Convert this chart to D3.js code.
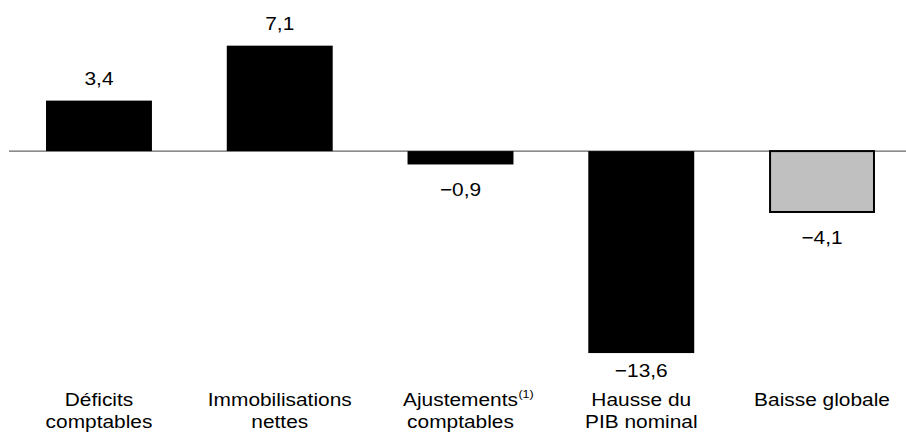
<!DOCTYPE html>
<html><head><meta charset="utf-8">
<script src="https://cdn.jsdelivr.net/npm/d3@7"></script>
<style>
html,body{margin:0;padding:0;background:#fff;}
svg{display:block;}
text{font-family:"Liberation Sans",Arial,sans-serif;fill:#000;}
</style></head>
<body>
<svg id="chart" width="906" height="441"></svg>
<script>
const categories = [
  ["Déficits", "comptables"],
  ["Immobilisations", "nettes"],
  ["Ajustements", "comptables"],
  ["Hausse du", "PIB nominal"],
  ["Baisse globale"]
];
const values = [3.4, 7.1, -0.9, -13.6, -4.1];
const valueLabels = ["3,4", "7,1", "\u22120,9", "\u221213,6", "\u22124,1"];
const footnotes = ["", "", "(1)", "", ""];
const isTotal = [false, false, false, false, true];

const W = 906, H = 441;
const svg = d3.select("#chart");
const sx = 1.13, fs = 18.5;

const x = d3.scaleBand().domain(d3.range(values.length)).range([8.6, 912.4])
  .paddingInner(0.414).paddingOuter(0.207);
const y = d3.scaleLinear().domain([-14, 8]).range([359, 32.3]);

// zero line
svg.append("line").attr("x1", 9).attr("x2", W).attr("y1", y(0)).attr("y2", y(0))
  .attr("stroke", "#666").attr("stroke-width", 1.2);

// bars
svg.selectAll("rect.bar").data(values).join("rect").attr("class", "bar")
  .attr("x", (d, i) => x(i) + (isTotal[i] ? 1 : 0))
  .attr("width", (d, i) => x.bandwidth() - (isTotal[i] ? 2 : 0))
  .attr("y", d => Math.min(y(d), y(0)))
  .attr("height", d => Math.abs(y(d) - y(0)))
  .attr("fill", (d, i) => isTotal[i] ? "#c0c0c0" : "#000")
  .attr("stroke", (d, i) => isTotal[i] ? "#000" : "none")
  .attr("stroke-width", 2);

function stretchedText(g, cx, yb, txt, size) {
  return g.append("text")
    .attr("transform", `translate(${cx},${yb}) scale(${sx},1)`)
    .attr("text-anchor", "middle").attr("font-size", size).text(txt);
}

// value labels
values.forEach((v, i) => {
  const cx = x(i) + x.bandwidth() / 2;
  const yb = v >= 0 ? y(v) - 16 : Math.min(y(v) + 32, 377);
  stretchedText(svg, cx, yb, valueLabels[i], fs);
});

// category labels
categories.forEach((lines, i) => {
  const cx = x(i) + x.bandwidth() / 2;
  lines.forEach((ln, j) => {
    const t = stretchedText(svg, cx, 406 + j * 22, ln, fs);
    if (j === 0 && footnotes[i]) {
      const w = t.node().getComputedTextLength() * sx;
      svg.append("text")
        .attr("transform", `translate(${cx + w / 2 + 0.5},${398}) scale(${sx},1)`)
        .attr("font-size", 11).text(footnotes[i]);
    }
  });
});
</script>
</body></html>
